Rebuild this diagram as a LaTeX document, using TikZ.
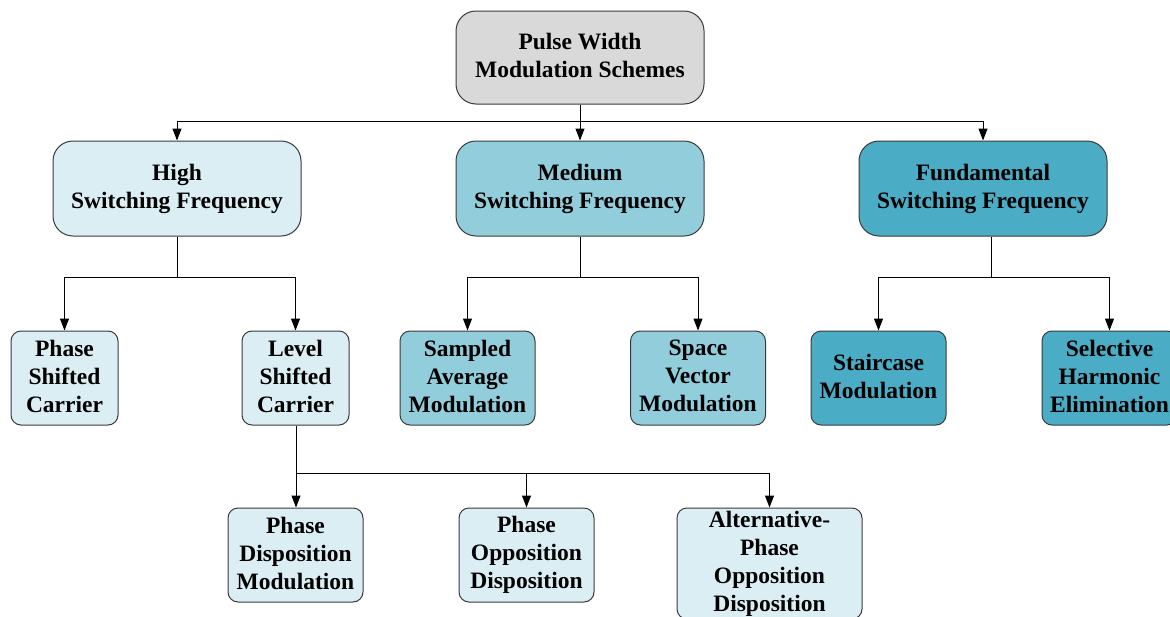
\documentclass[tikz,border=0pt]{standalone}
\usepackage{fontspec}
\setmainfont{Liberation Serif}
\usetikzlibrary{arrows.meta}

\definecolor{rootgray}{HTML}{D9D9D9}
\definecolor{lightcyan}{HTML}{DAEEF3}
\definecolor{midcyan}{HTML}{92CDDC}
\definecolor{deepcyan}{HTML}{4BACC6}
\definecolor{edgegray}{HTML}{3A3A3A}

\tikzset{
  box/.style={draw=edgegray, line width=1pt, rectangle, rounded corners=10pt, align=center,
    font=\fontsize{23.5}{28}\selectfont\bfseries, inner sep=0pt,
    execute at begin node=\rule{0pt}{28pt}, execute at end node=\rule[-4pt]{0pt}{4pt}},
  bigbox/.style={box, rounded corners=20pt, minimum width=248pt, minimum height=95pt},
  leaf/.style={box, minimum width=135pt, minimum height=94pt},
  link/.style={line width=1pt},
  arrow/.style={link, -{Triangle[width=9pt,length=12pt]}},
}

\begin{document}
\begin{tikzpicture}[x=1pt, y=-1pt]
  \useasboundingbox (0,0) rectangle (1170,616);
  \clip (0,0) rectangle (1170,616);

  % root
  \node (pwm) [bigbox, fill=rootgray, minimum height=93pt] at (580,57.5) {Pulse Width\\Modulation Schemes};

  % switching frequency classes
  \node (high) [bigbox, fill=lightcyan] at (177,188.5) {High\\Switching Frequency};
  \node (medium) [bigbox, fill=midcyan] at (580,188.5) {Medium\\Switching Frequency};
  \node (fund) [bigbox, fill=deepcyan] at (983,188.5) {Fundamental\\Switching Frequency};

  % methods
  \node (psc) [leaf, fill=lightcyan, minimum width=107pt] at (64.5,378) {Phase\\Shifted\\Carrier};
  \node (lsc) [leaf, fill=lightcyan, minimum width=107pt] at (295.5,378) {Level\\Shifted\\Carrier};
  \node (sam) [leaf, fill=midcyan] at (467.5,378) {Sampled\\Average\\Modulation};
  \node (svm) [leaf, fill=midcyan] at (698,378) {Space\\Vector\\Modulation};
  \node (stair) [leaf, fill=deepcyan] at (878.5,378) {Staircase\\Modulation};
  \node (she) [leaf, fill=deepcyan] at (1109.5,378) {Selective\\Harmonic\\Elimination};

  % level shifted variants
  \node (pdm) [leaf, fill=lightcyan] at (295.5,555) {Phase\\Disposition\\Modulation};
  \node (pod) [leaf, fill=lightcyan] at (526.5,555) {Phase\\Opposition\\Disposition};
  \node (apod) [leaf, fill=lightcyan, minimum width=185pt, minimum height=111pt] at (769.5,563.5)
    {Alternative-\\Phase\\Opposition\\Disposition};

  % branch points
  \coordinate (topsplit) at (580,121);
  \coordinate (highsplit) at (177,277);
  \coordinate (medsplit) at (580,277);
  \coordinate (fundsplit) at (991,277);
  \coordinate (lscsplit) at (296,473);

  \draw[link] (pwm) -- (topsplit);
  \draw[arrow] (topsplit) -| (high);
  \draw[arrow] (topsplit) -- (medium);
  \draw[arrow] (topsplit) -| (fund);

  \draw[link] (high) -- (highsplit);
  \draw[arrow] (highsplit) -| (psc);
  \draw[arrow] (highsplit) -| (lsc);

  \draw[link] (medium) -- (medsplit);
  \draw[arrow] (medsplit) -| (sam);
  \draw[arrow] (medsplit) -| (svm);

  \draw[link] (fund.south -| fundsplit) -- (fundsplit);
  \draw[arrow] (fundsplit) -| (stair);
  \draw[arrow] (fundsplit) -| (she);

  \draw[link] (lsc.south -| lscsplit) -- (lscsplit);
  \draw[arrow] (lscsplit) -- (lscsplit |- pdm.north);
  \draw[arrow] (lscsplit) -| (pod);
  \draw[arrow] (lscsplit) -| (apod);
\end{tikzpicture}
\end{document}
